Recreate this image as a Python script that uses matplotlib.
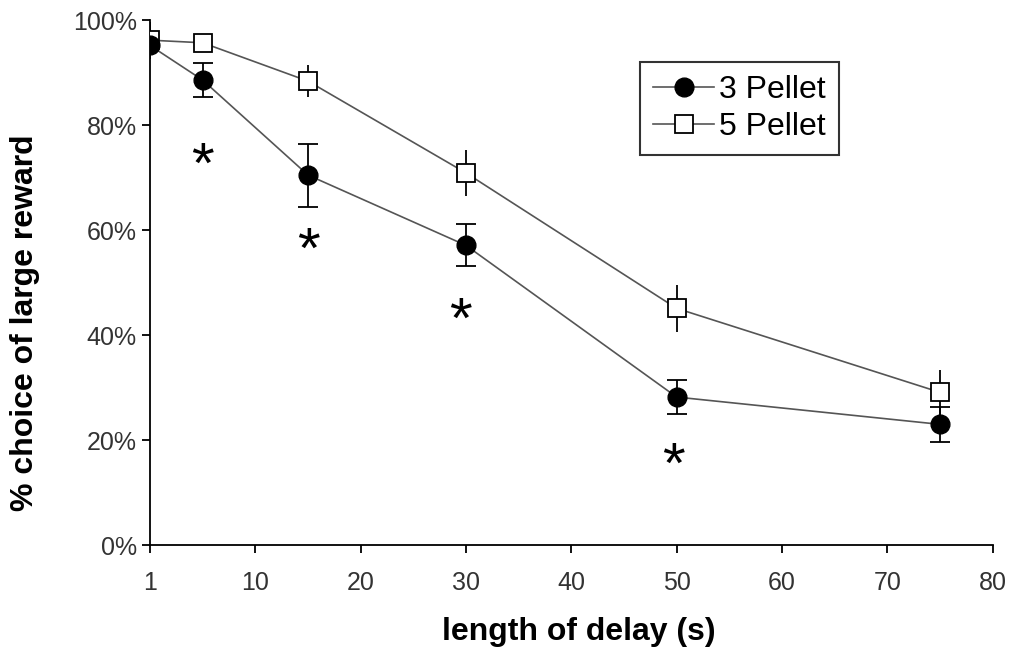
import numpy as np
import matplotlib
matplotlib.use("Agg")
import matplotlib.pyplot as plt

plt.rcParams['font.family'] = ['Liberation Sans', 'DejaVu Sans']

# delay (s); the 1-s point sits on the axis origin in the original chart
delays = [1, 5, 15, 30, 50, 75]
x_pos = [0, 5, 15, 30, 50, 75]

pellet3 = [95.2, 88.6, 70.5, 57.1, 28.2, 23.0]
pellet3_err = [0.0, 3.2, 6.0, 4.0, 3.3, 3.4]
pellet5 = [96.2, 95.7, 88.4, 70.9, 45.1, 29.1]
pellet5_err = [3.5, 0.0, 3.0, 4.4, 4.5, 4.3]

# significance stars (3 vs 5 pellet)
star_x = [5, 15, 29.5, 49.7]
star_y = [74.3, 58.1, 44.8, 17.1]

xtick_pos = [0, 10, 20, 30, 40, 50, 60, 70, 80]
xtick_labels = ['1', '10', '20', '30', '40', '50', '60', '70', '80']
ytick_vals = [0, 20, 40, 60, 80, 100]

fig = plt.figure(figsize=(10.16, 6.52), dpi=100)
ax = fig.add_axes([0.1476, 0.164, 0.8294, 0.805])

line_c = '#555555'
ax.errorbar(x_pos, pellet5, yerr=pellet5_err, fmt='none', ecolor='black',
            elinewidth=1.3, capsize=0, zorder=2)
ax.errorbar(x_pos, pellet3, yerr=pellet3_err, fmt='none', ecolor='black',
            elinewidth=1.3, capsize=7, capthick=1.3, zorder=2)
ax.plot(x_pos, pellet5, '-', color=line_c, lw=1.2, marker='s', ms=13,
        mfc='white', mec='black', mew=1.3, label='5 Pellet', zorder=3)
ax.plot(x_pos, pellet3, '-', color=line_c, lw=1.2, marker='o', ms=13.5,
        mfc='black', mec='black', label='3 Pellet', zorder=4)

for sx, sy in zip(star_x, star_y):
    ax.annotate('*', (sx, sy), xytext=(0, -9), textcoords='offset points',
                fontsize=42, ha='center', va='center')

ax.set_xlim(0, 80)
ax.set_ylim(0, 100)
ax.set_xticks(xtick_pos)
ax.set_xticklabels(xtick_labels)
ax.set_yticks(ytick_vals)
ax.set_yticklabels(['%d%%' % v for v in ytick_vals])
ax.tick_params(labelsize=18, length=6, width=1.3, color='black',
               labelcolor='#333333')
ax.tick_params(axis='x', pad=13)
for s in ['top', 'right']:
    ax.spines[s].set_visible(False)
for s in ['left', 'bottom']:
    ax.spines[s].set_linewidth(1.3)

ax.set_xlabel('length of delay (s)', fontsize=23, fontweight='bold')
ax.xaxis.set_label_coords(0.509, -0.137)
ax.set_ylabel('% choice of large reward', fontsize=23, fontweight='bold')
ax.yaxis.set_label_coords(-0.13, 0.423)

handles, labels = ax.get_legend_handles_labels()
leg = ax.legend(handles[::-1], labels[::-1], loc='upper left',
                bbox_to_anchor=(640 / 1016, 1 - 62 / 652),
                bbox_transform=fig.transFigure, fontsize=23, frameon=True,
                fancybox=False, edgecolor='black', handlelength=1.9,
                handletextpad=0.15, borderpad=0.42, labelspacing=0.2,
                borderaxespad=0, markerscale=1.0)
leg.get_frame().set_linewidth(1.5)

fig.savefig('out.png', dpi=100)
